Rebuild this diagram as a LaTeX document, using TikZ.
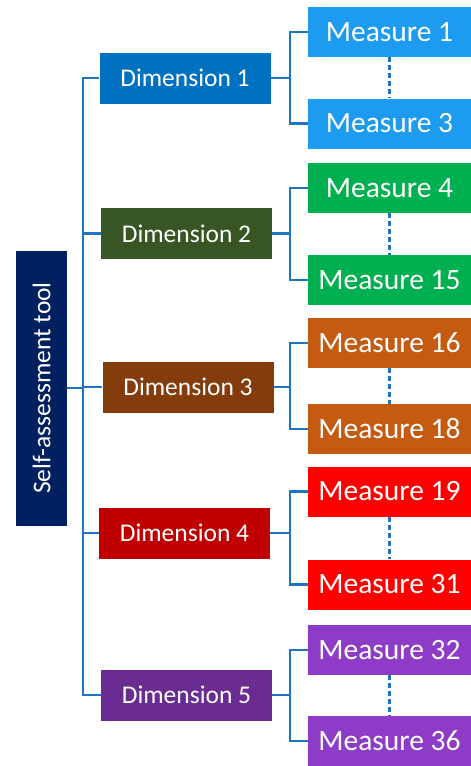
\documentclass[tikz,border=0pt]{standalone}
\usepackage{fontspec}
\setmainfont{Carlito}
\usetikzlibrary{positioning,calc}
\definecolor{toolnavy}{HTML}{002060}
\definecolor{linkblue}{HTML}{1F74C4}
\definecolor{dimblue}{HTML}{0070C0}
\definecolor{meablue}{HTML}{1C9BF0}
\definecolor{dimgreen}{HTML}{375623}
\definecolor{meagreen}{HTML}{00B050}
\definecolor{dimbrown}{HTML}{843C0C}
\definecolor{meabrown}{HTML}{C55A11}
\definecolor{dimred}{HTML}{C00000}
\definecolor{meared}{HTML}{FF0000}
\definecolor{dimpurple}{HTML}{6A2C91}
\definecolor{meapurple}{HTML}{8E3CC8}

\begin{document}
\begin{tikzpicture}[x=1pt,y=-1pt,
  tool/.style={text=white,inner sep=0pt,minimum width=275pt,minimum height=51pt,
    font=\fontsize{25.5}{30}\selectfont},
  dimbox/.style={text=white,inner sep=0pt,minimum width=171pt,minimum height=51pt,
    font=\fontsize{25.5}{30}\selectfont},
  meabox/.style={text=white,inner sep=0pt,minimum width=163pt,minimum height=50pt,
    font=\fontsize{29.5}{35}\selectfont},
  link/.style={draw=linkblue,line width=2.2pt},
  gap/.style={draw=linkblue,line width=2.5pt,dash pattern=on 5pt off 3pt}]
  \useasboundingbox (0,0) rectangle (471,766);
  % root
  \node[tool,fill=toolnavy,rotate=90] (tool) at (41.5,388) {Self-assessment tool};
  % dimensions
  \node[dimbox,fill=dimblue] (dim1) at (185,78) {Dimension 1};
  \node[dimbox,fill=dimgreen] (dim2) at (186.5,233.5) {Dimension 2};
  \node[dimbox,fill=dimbrown] (dim3) at (188,387) {Dimension 3};
  \node[dimbox,fill=dimred] (dim4) at (184.5,533) {Dimension 4};
  \node[dimbox,fill=dimpurple] (dim5) at (186.5,695) {Dimension 5};
  % measures
  \node[meabox,fill=meablue] (mea1) at (389.5,32) {Measure 1};
  \node[meabox,fill=meablue] (mea3) at (389.5,123.5) {Measure 3};
  \node[meabox,fill=meagreen] (mea4) at (389.5,188) {Measure 4};
  \node[meabox,fill=meagreen] (mea15) at (389.5,280) {Measure 15};
  \node[meabox,fill=meabrown] (mea16) at (389.5,343) {Measure 16};
  \node[meabox,fill=meabrown] (mea18) at (389.5,429) {Measure 18};
  \node[meabox,fill=meared] (mea19) at (389.5,491.5) {Measure 19};
  \node[meabox,fill=meared] (mea31) at (389.5,584.5) {Measure 31};
  \node[meabox,fill=meapurple] (mea32) at (389.5,650) {Measure 32};
  \node[meabox,fill=meapurple] (mea36) at (389.5,741) {Measure 36};
  % connectors
  \coordinate (trunk) at (83,0);
  \coordinate (fork) at (290,0);
  \draw[link] (tool.south) -- (tool.south -| trunk);
  \draw[link] (dim1.west) -| (trunk |- dim5.west) -- (dim5.west);
  \draw[link] (dim2.west) -- (dim2.west -| trunk);
  \draw[link] (dim3.west) -- (dim3.west -| trunk);
  \draw[link] (dim4.west) -- (dim4.west -| trunk);
  \draw[link] (mea1.west) -| (fork |- mea3.west) -- (mea3.west);
  \draw[link] (mea4.west) -| (fork |- mea15.west) -- (mea15.west);
  \draw[link] (mea16.west) -| (fork |- mea18.west) -- (mea18.west);
  \draw[link] (mea19.west) -| (fork |- mea31.west) -- (mea31.west);
  \draw[link] (mea32.west) -| (fork |- mea36.west) -- (mea36.west);
  \draw[link] (dim1.east) -- (dim1.east -| fork);
  \draw[link] (dim2.east) -- (dim2.east -| fork);
  \draw[link] (dim3.east) -- (dim3.east -| fork);
  \draw[link] (dim4.east) -- (dim4.east -| fork);
  \draw[link] (dim5.east) -- (dim5.east -| fork);
  \draw[gap] (mea1.south) -- (mea3.north);
  \draw[gap] (mea4.south) -- (mea15.north);
  \draw[gap] (mea16.south) -- (mea18.north);
  \draw[gap] (mea19.south) -- (mea31.north);
  \draw[gap] (mea32.south) -- (mea36.north);
\end{tikzpicture}
\end{document}
